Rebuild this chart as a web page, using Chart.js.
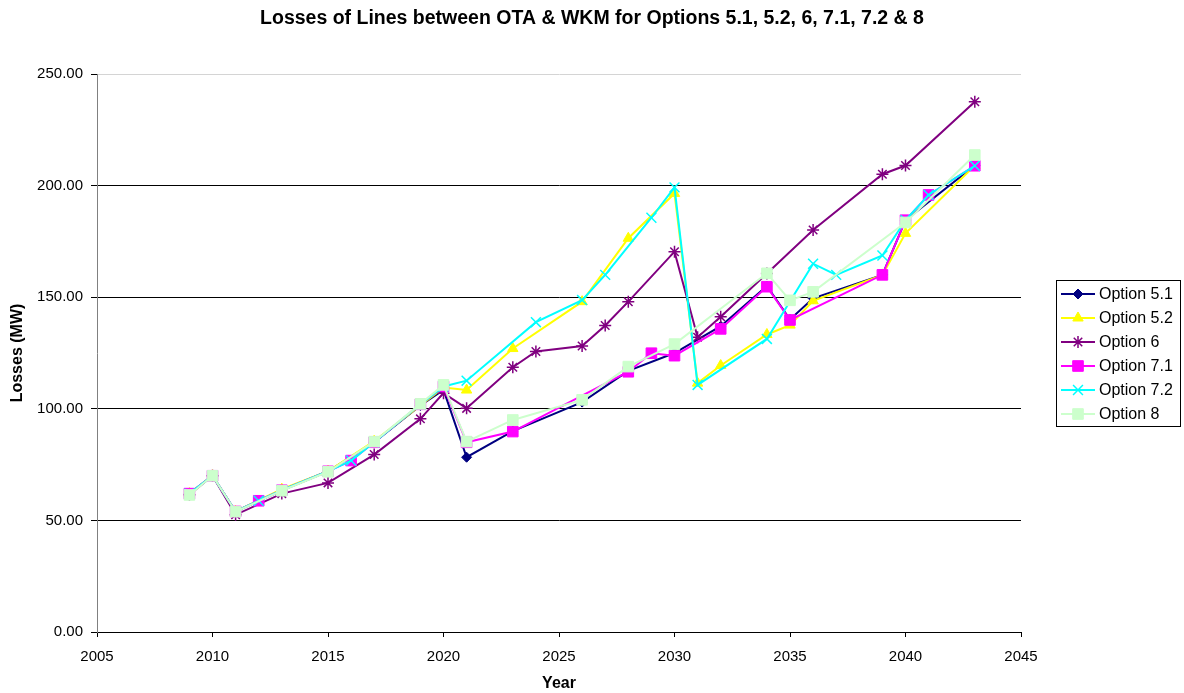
<!DOCTYPE html>
<html>
<head>
<meta charset="utf-8">
<title>Losses of Lines between OTA & WKM</title>
<script src="https://cdn.jsdelivr.net/npm/chart.js@4.4.0/dist/chart.umd.min.js"></script>
<style>
  html, body { margin: 0; padding: 0; background: #fff; }
  #wrap { width: 1184px; height: 693px; }
</style>
</head>
<body>
<div id="wrap"><canvas id="losses-chart" width="1184" height="693"></canvas></div>
<script>
// Data (years, losses in MW)
const chartTitle = 'Losses of Lines between OTA & WKM for Options 5.1, 5.2, 6, 7.1, 7.2 & 8';
const seriesNames = ['Option 5.1', 'Option 5.2', 'Option 6', 'Option 7.1', 'Option 7.2', 'Option 8'];

const yearsOpt51 = [2009, 2010, 2011, 2013, 2015, 2017, 2019, 2020, 2021, 2023, 2026, 2028, 2030, 2032, 2034, 2035, 2036, 2039, 2040, 2043];
const lossesOpt51 = [62, 70, 54, 63.5, 72, 85, 101.5, 108.5, 78.3, 90, 103, 117, 125, 137, 155, 140, 149.5, 160, 184.5, 209];

const yearsOpt52 = [2009, 2010, 2011, 2013, 2015, 2017, 2019, 2020, 2021, 2023, 2026, 2028, 2030, 2031, 2032, 2034, 2035, 2036, 2039, 2040, 2043];
const lossesOpt52 = [62, 70, 54, 64, 72, 85.5, 101.5, 109.5, 108.4, 127, 148, 176.4, 196.5, 111.5, 119.4, 133.3, 137.5, 148.4, 160, 178.6, 209];

const yearsOpt6 = [2009, 2010, 2011, 2013, 2015, 2017, 2019, 2020, 2021, 2023, 2024, 2026, 2027, 2028, 2030, 2031, 2032, 2034, 2036, 2039, 2040, 2043];
const lossesOpt6 = [61.5, 70, 52.5, 62, 66.8, 79.5, 95.5, 107, 100.2, 118.6, 125.7, 128.1, 137.3, 148, 170.4, 132.1, 141.2, 160.6, 180.1, 205.1, 209, 237.6];

const yearsOpt71 = [2009, 2010, 2011, 2012, 2013, 2015, 2016, 2017, 2019, 2020, 2021, 2023, 2028, 2029, 2030, 2032, 2034, 2035, 2039, 2040, 2041, 2043];
const lossesOpt71 = [62, 70, 54, 58.8, 63.5, 72, 76.8, 85, 102, 110, 85, 89.8, 116.6, 124.9, 123.8, 135.8, 154.7, 139.8, 160, 184.5, 195.8, 208.9];

const yearsOpt72 = [2009, 2010, 2011, 2012, 2013, 2015, 2016, 2017, 2019, 2020, 2021, 2024, 2026, 2027, 2029, 2030, 2031, 2034, 2036, 2037, 2039, 2040, 2041, 2043];
const lossesOpt72 = [62, 70, 54, 58.8, 63.5, 72, 76.8, 85, 102, 110, 112.6, 138.8, 148.7, 160, 185.6, 199.2, 110.7, 131.3, 165, 160, 168.7, 184.5, 195.8, 208.9];

const yearsOpt8 = [2009, 2010, 2011, 2013, 2015, 2017, 2019, 2020, 2021, 2023, 2026, 2028, 2030, 2034, 2035, 2036, 2040, 2043];
const lossesOpt8 = [61.4, 70, 53.9, 63.3, 71.8, 85.3, 102.2, 110.7, 85.3, 95, 104, 118.9, 129, 160.7, 148.6, 152.4, 183.5, 213.7];

const yTicks = [0, 50, 100, 150, 200, 250];
const xTicks = [2005, 2010, 2015, 2020, 2025, 2030, 2035, 2040, 2045];

const FONT = '"Liberation Sans", Arial, Helvetica, sans-serif';

function toPoints(years, values) {
    return years.map((yr, i) => ({ x: yr, y: values[i] }));
}

// Marker look for each option, Excel style
const styles = [
    { color: '#000080', pointStyle: 'rectRot', radius: 5, borderWidth: 1, width: 2 },
    { color: '#FFFF00', pointStyle: 'triangle', radius: 6, borderWidth: 1, width: 2 },
    { color: '#800080', pointStyle: 'star', radius: 6, borderWidth: 1.5, width: 2 },
    { color: '#FF00FF', pointStyle: 'rect', radius: 7.5, borderWidth: 1, width: 2 },
    { color: '#00FFFF', pointStyle: 'crossRot', radius: 7, borderWidth: 1.5, width: 2 },
    { color: '#CCFFCC', pointStyle: 'rect', radius: 7.5, borderWidth: 1, width: 2 }
];

const allYears = [yearsOpt51, yearsOpt52, yearsOpt6, yearsOpt71, yearsOpt72, yearsOpt8];
const allLosses = [lossesOpt51, lossesOpt52, lossesOpt6, lossesOpt71, lossesOpt72, lossesOpt8];

const datasets = seriesNames.map((name, i) => ({
    label: name,
    data: toPoints(allYears[i], allLosses[i]),
    borderColor: styles[i].color,
    backgroundColor: styles[i].color,
    borderWidth: styles[i].width,
    pointStyle: styles[i].pointStyle,
    pointRadius: styles[i].radius,
    pointBorderWidth: styles[i].borderWidth,
    pointBackgroundColor: styles[i].color,
    pointBorderColor: styles[i].color,
    tension: 0,
    // later series are drawn on top, like Excel
    order: seriesNames.length - i
}));

// Title centred over the whole canvas + bordered legend box on the right
const titleAndLegend = {
    id: 'titleAndLegend',
    afterDraw(chart) {
        const ctx = chart.ctx;
        ctx.save();
        ctx.fillStyle = '#000';
        ctx.font = 'bold 19.5px ' + FONT;
        ctx.textAlign = 'center';
        ctx.textBaseline = 'middle';
        ctx.fillText(chartTitle, chart.width / 2, 19);

        const left = chart.chartArea.right + 35;
        const top = 280;
        const w = 124, h = 146;
        ctx.strokeStyle = '#000';
        ctx.lineWidth = 1;
        ctx.strokeRect(left + 0.5, top + 0.5, w, h);
        ctx.font = '16px ' + FONT;
        ctx.textAlign = 'left';
        chart.data.datasets.forEach((ds, i) => {
            const y = top + 14 + i * 24;
            ctx.strokeStyle = ds.borderColor;
            ctx.lineWidth = ds.borderWidth;
            ctx.beginPath();
            ctx.moveTo(left + 5, y);
            ctx.lineTo(left + 39, y);
            ctx.stroke();
            ctx.fillStyle = ds.pointBackgroundColor;
            ctx.strokeStyle = ds.pointBorderColor;
            ctx.lineWidth = ds.pointBorderWidth;
            Chart.helpers.drawPoint(ctx, {
                pointStyle: ds.pointStyle,
                radius: ds.pointRadius,
                rotation: 0,
                borderWidth: ds.pointBorderWidth
            }, left + 22, y);
            ctx.fillStyle = '#000';
            ctx.fillText(ds.label, left + 43, y + 1);
        });
        ctx.restore();
    }
};

const ctx = document.getElementById('losses-chart').getContext('2d');
const lossesChart = new Chart(ctx, {
    type: 'line',
    data: { datasets: datasets },
    plugins: [titleAndLegend],
    options: {
        responsive: false,
        animation: false,
        layout: { padding: { left: 0, right: 163, top: 74, bottom: 0 } },
        plugins: {
            legend: { display: false },
            tooltip: { enabled: false },
            title: { display: false }
        },
        scales: {
            x: {
                type: 'linear',
                min: 2005,
                max: 2045,
                afterBuildTicks: (scale) => { scale.ticks = xTicks.map(v => ({ value: v })); },
                afterFit: (scale) => { scale.height = 61; },
                ticks: {
                    color: '#000',
                    font: { family: FONT, size: 15 },
                    padding: 11,
                    maxRotation: 0,
                    callback: (v) => String(v)
                },
                grid: {
                    drawOnChartArea: false,
                    drawTicks: true,
                    tickLength: 5,
                    tickColor: '#000'
                },
                border: { display: true, color: '#000', width: 1 },
                title: {
                    display: true,
                    text: 'Year',
                    color: '#000',
                    font: { family: FONT, size: 16, weight: 'bold', lineHeight: 1.2 },
                    padding: { top: 0, bottom: 0 }
                }
            },
            y: {
                min: 0,
                max: 250,
                afterBuildTicks: (scale) => { scale.ticks = yTicks.map(v => ({ value: v })); },
                afterFit: (scale) => { scale.width = 97; },
                ticks: {
                    color: '#000',
                    font: { family: FONT, size: 15 },
                    padding: 8,
                    callback: (v) => v.toFixed(2)
                },
                grid: {
                    color: (c) => (c.tick && c.tick.value === 250 ? '#d4d4d4' : '#000'),
                    tickColor: '#000',
                    lineWidth: 1,
                    tickLength: 6
                },
                border: { display: true, color: '#808080', width: 1 },
                title: {
                    display: true,
                    text: 'Losses (MW)',
                    color: '#000',
                    font: { family: FONT, size: 16, weight: 'bold', lineHeight: 1.2 },
                    padding: { top: 8, bottom: 0 }
                }
            }
        }
    }
});
</script>
</body>
</html>
